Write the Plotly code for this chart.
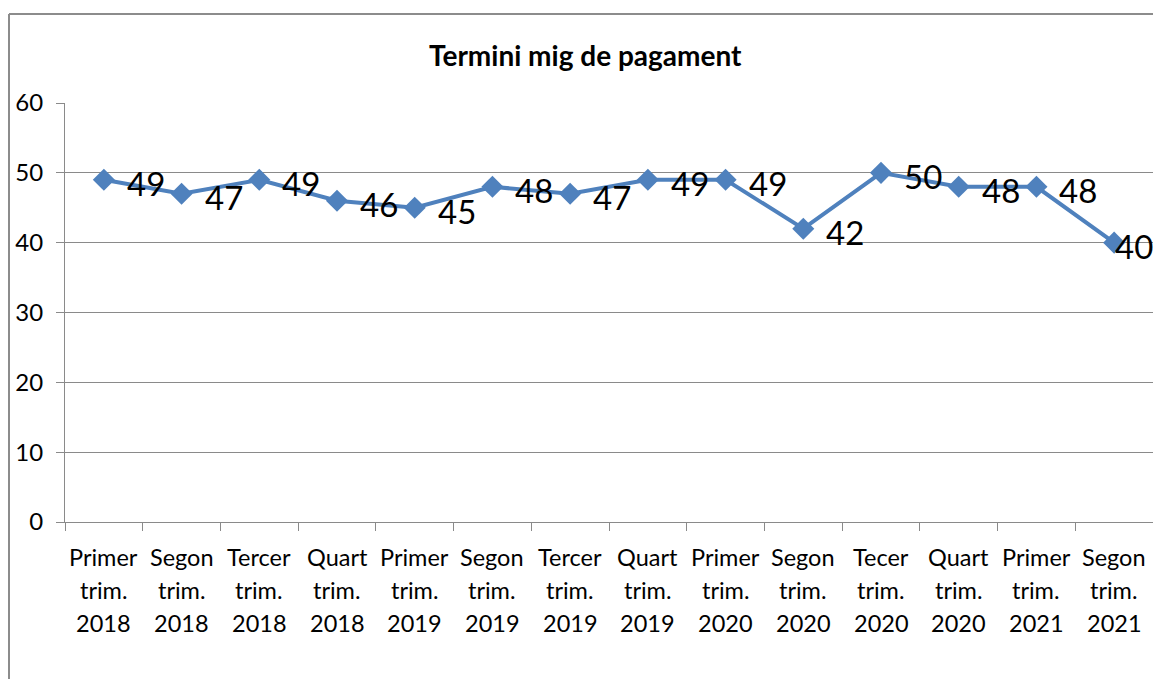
import plotly.graph_objects as go

title_text = "Termini mig de pagament"
line1 = ["Primer", "Segon", "Tercer", "Quart", "Primer", "Segon", "Tercer", "Quart",
         "Primer", "Segon", "Tecer", "Quart", "Primer", "Segon"]
line2 = ["trim."] * 14
line3 = ["2018", "2018", "2018", "2018", "2019", "2019", "2019", "2019",
         "2020", "2020", "2020", "2020", "2021", "2021"]
values = [49, 47, 49, 46, 45, 48, 47, 49, 49, 42, 50, 48, 48, 40]
y_ticks = [0, 10, 20, 30, 40, 50, 60]

categories = [f"{a} {b} {c}" for a, b, c in zip(line1, line2, line3)]

BLUE = "#4F81BD"
GRID = "#8a8a8a"
FONT = "Lato, Open Sans, sans-serif"

W, H = 1153, 679
L, R, T, B = 65, 0, 103, 157
plot_h = H - T - B
plot_w = W - L - R

fig = go.Figure()
fig.add_trace(go.Scatter(
    x=categories, y=values, mode="lines+markers",
    line=dict(color=BLUE, width=4),
    marker=dict(symbol="diamond", size=17, color=BLUE),
    hoverinfo="skip", showlegend=False,
))

annotations = []
# data labels
n = len(values)
for i, (c, v) in enumerate(zip(categories, values)):
    if i == n - 1:
        annotations.append(dict(x=c, y=v, xref="x", yref="y", text=str(v),
                                showarrow=False, xanchor="right", yanchor="middle",
                                xshift=41, yshift=-3,
                                font=dict(family=FONT, size=33, color="black")))
    else:
        annotations.append(dict(x=c, y=v, xref="x", yref="y", text=str(v),
                                showarrow=False, xanchor="left", yanchor="middle",
                                xshift=21, yshift=-3,
                                font=dict(family=FONT, size=33, color="black")))

# category labels (three rows)
row_centers = [557, 590, 623]
for rows, yc in zip([line1, line2, line3], row_centers):
    for c, t in zip(categories, rows):
        annotations.append(dict(x=c, y=-(yc - (H - B)) / plot_h, xref="x", yref="paper",
                                text=t, showarrow=False, xanchor="center", yanchor="middle",
                                font=dict(family=FONT, size=23.5, color="black")))

# title
annotations.append(dict(x=(585 - L) / plot_w, y=1 + (T - 55) / plot_h, xref="paper", yref="paper",
                        text="<b>" + title_text + "</b>", showarrow=False,
                        xanchor="center", yanchor="middle",
                        font=dict(family=FONT, size=28, color="black")))

fig.update_layout(
    width=W, height=H,
    margin=dict(l=L, r=R, t=T, b=B, pad=0),
    paper_bgcolor="white", plot_bgcolor="white",
    annotations=annotations,
    xaxis=dict(type="category", range=[-0.5, n - 0.5], showgrid=False,
               showline=True, linecolor=GRID, linewidth=1,
               ticks="outside", tickson="boundaries", ticklen=8, tickcolor=GRID,
               showticklabels=False, zeroline=False, fixedrange=True),
    yaxis=dict(range=[0, 60], tickvals=y_ticks, showgrid=True, gridcolor=GRID, gridwidth=1,
               showline=True, linecolor=GRID, linewidth=1,
               ticks="outside", ticklen=8, tickcolor=GRID,
               ticklabelstandoff=8,
               tickfont=dict(family=FONT, size=24, color="black"),
               zeroline=False, fixedrange=True),
    shapes=[
        dict(type="line", xref="paper", yref="paper",
             x0=(9 - L) / plot_w, x1=1.05, y0=1 + (T - 14) / plot_h, y1=1 + (T - 14) / plot_h,
             line=dict(color="#8c8c8c", width=2)),
        dict(type="line", xref="paper", yref="paper",
             x0=(9 - L) / plot_w, x1=(9 - L) / plot_w, y0=1 + (T - 14) / plot_h, y1=-0.5,
             line=dict(color="#8c8c8c", width=2)),
    ],
)

fig.write_html("out.html", config={"displayModeBar": False},
               post_script="document.body.style.margin='0';document.body.style.overflow='hidden';")
